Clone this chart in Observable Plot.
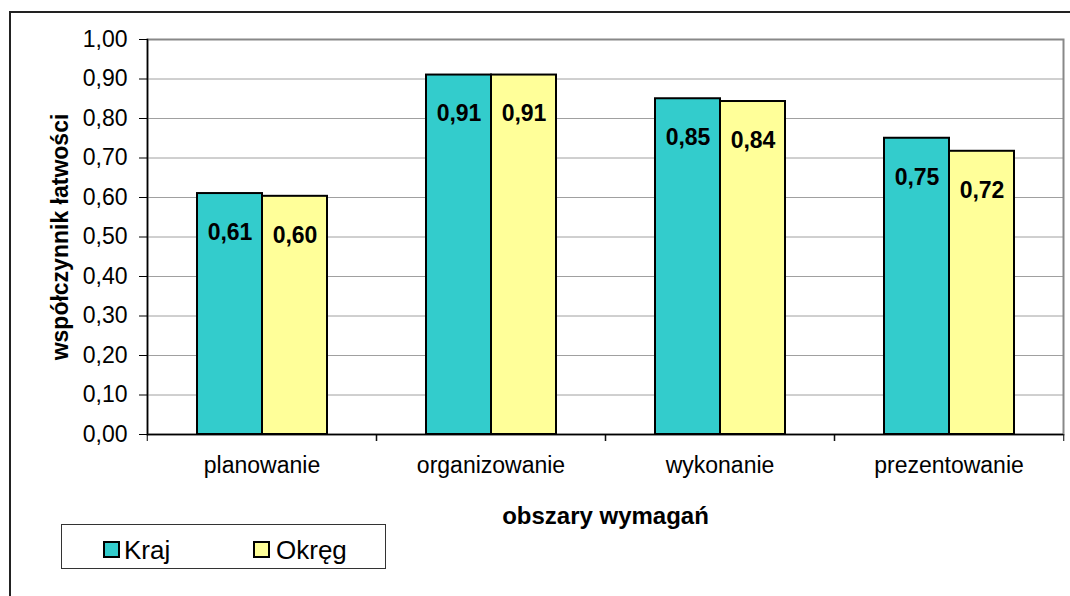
<!DOCTYPE html>
<html><head><meta charset="utf-8">
<script src="https://cdn.jsdelivr.net/npm/d3@7"></script>
<script src="https://cdn.jsdelivr.net/npm/@observablehq/plot@0.6"></script>
<style>
html,body{margin:0;padding:0;background:#fff;overflow:hidden;}
#wrap{position:relative;width:1070px;height:596px;font-family:"Liberation Sans",Arial,sans-serif;}
#border{position:absolute;left:9px;top:11px;width:1080px;height:600px;border-left:2px solid #222;border-top:2px solid #222;}
#chart{position:absolute;left:0;top:0;}
#legend{position:absolute;left:61px;top:524px;width:325px;height:45px;border:1px solid #333;box-sizing:border-box;background:#fff;}
#legend .sw{position:absolute;top:16px;width:17px;height:17px;border:2px solid #000;box-sizing:border-box;}
#legend .lb{position:absolute;top:12px;font-size:26px;line-height:26px;color:#000;white-space:nowrap;}
</style></head>
<body><div id="wrap"><div id="border"></div><div id="chart"></div><div id="legend"></div></div>
<script>
const categories = ["planowanie", "organizowanie", "wykonanie", "prezentowanie"];
const seriesNames = ["Kraj", "Okręg"];
const krajValues = [0.61, 0.91, 0.85, 0.75];
const okregValues = [0.603, 0.91, 0.843, 0.717];
const seriesColors = ["#33CCCC", "#FFFF99"];
const yTickValues = [0, 0.1, 0.2, 0.3, 0.4, 0.5, 0.6, 0.7, 0.8, 0.9, 1.0];
const gridValues = [0.1, 0.2, 0.3, 0.4, 0.5, 0.6, 0.7, 0.8, 0.9];
const xTitle = "obszary wymagań";
const yTitle = "współczynnik łatwości";

const W = 1070, H = 596, mL = 146, mR = 6, mT = 39, mB = 162;
const half = (W - mL - mR) / categories.length / 2;

const data = categories.flatMap((c, i) => [
  {category: c, series: seriesNames[0], value: krajValues[i]},
  {category: c, series: seriesNames[1], value: okregValues[i]}
]);
const fmt = v => d3.format(".2f")(v).replace(".", ",");

const chart = Plot.plot({
  width: W, height: H,
  marginLeft: mL, marginRight: mR, marginTop: mT, marginBottom: mB,
  style: {fontFamily: '"Liberation Sans", Arial, sans-serif', fontSize: "23px", color: "#000", background: "transparent", overflow: "visible"},
  fx: {domain: categories, padding: 0, label: null},
  x: {domain: seriesNames, paddingInner: 0, paddingOuter: 0.74, axis: null},
  y: {domain: [0, 1], label: null},
  color: {domain: seriesNames, range: seriesColors},
  marks: [
    Plot.ruleY(gridValues, {stroke: "#a0a0a0", strokeWidth: 1}),
    Plot.frame({facet: "super", stroke: "#888", strokeWidth: 2}),
    Plot.barY(data, {fx: "category", x: "series", y: "value", fill: "series", stroke: "#000", strokeWidth: 2}),
    Plot.text(data, {fx: "category", x: "series", y: "value", text: d => fmt(d.value), dy: 39, fontWeight: "bold", fontSize: 23}),
    Plot.ruleY([0], {stroke: "#000", strokeWidth: 1.5}),
    Plot.frame({facet: "super", anchor: "left", stroke: "#000", strokeWidth: 1.5}),
    Plot.axisY({ticks: yTickValues, tickFormat: fmt, tickSize: 8, tickPadding: 12, label: null}),
    Plot.axisFx({anchor: "bottom", tickSize: 0, tickPadding: 22, label: null}),
    Plot.axisFx({anchor: "bottom", text: null, tickSize: 7, dx: -half, label: null}),
    Plot.axisFx({anchor: "bottom", text: null, tickSize: 7, dx: half, label: null}),
    Plot.text([xTitle], {facet: "super", frameAnchor: "bottom", textAnchor: "middle", dy: 89, fontWeight: "bold", fontSize: 24}),
    Plot.text([yTitle], {facet: "super", frameAnchor: "left", textAnchor: "middle", rotate: -90, dx: -87, fontWeight: "bold", fontSize: 23})
  ]
});
document.getElementById("chart").appendChild(chart);

const legend = document.getElementById("legend");
const swLeft = [41, 191], lbLeft = [62, 214];
seriesNames.forEach((name, i) => {
  const sw = document.createElement("div");
  sw.className = "sw"; sw.style.left = swLeft[i] + "px"; sw.style.background = seriesColors[i];
  const lb = document.createElement("div");
  lb.className = "lb"; lb.style.left = lbLeft[i] + "px"; lb.textContent = name;
  legend.appendChild(sw); legend.appendChild(lb);
});
</script>
</body></html>
